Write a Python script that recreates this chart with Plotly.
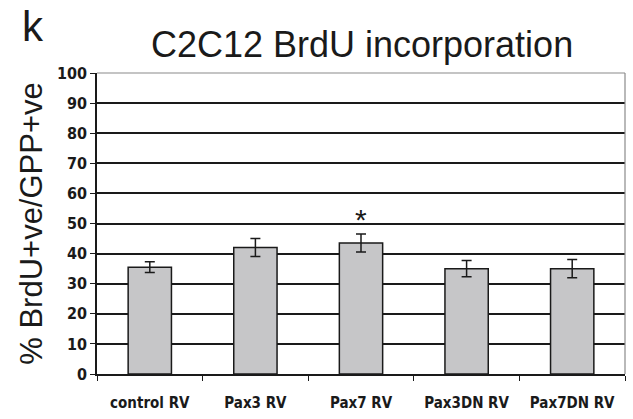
import plotly.graph_objects as go

categories = ["control RV", "Pax3 RV", "Pax7 RV", "Pax3DN RV", "Pax7DN RV"]
means = [35.5, 42.0, 43.5, 35.0, 35.0]
errors = [1.8, 3.0, 3.0, 2.7, 3.0]
y_ticks = [0, 10, 20, 30, 40, 50, 60, 70, 80, 90, 100]
star_category = "Pax7 RV"
star_value = 51.2

TICK_FONT = "DejaVu Sans Condensed, Liberation Sans Narrow, Arial Narrow, sans-serif"

fig = go.Figure()
fig.add_trace(go.Bar(
    x=categories, y=means,
    marker=dict(color="#c6c6c8", line=dict(color="#1a1a1a", width=1.5)),
    width=0.41,
    error_y=dict(type="data", array=errors, visible=True, color="#1a1a1a",
                 thickness=1.5, width=5),
))

fig.add_annotation(x=star_category, y=star_value, text="*", showarrow=False,
                   font=dict(size=30, color="#1a1a1a", family="Liberation Sans"),
                   yanchor="middle")

# top & right frame (gray)
fig.add_shape(type="line", xref="paper", yref="paper", x0=0, x1=1, y0=1, y1=1,
              line=dict(color="#8a8a8a", width=1.2), layer="above")
fig.add_shape(type="line", xref="paper", yref="paper", x0=1, x1=1, y0=0, y1=1,
              line=dict(color="#8a8a8a", width=1.2), layer="above")

fig.add_annotation(xref="paper", yref="paper", x=-0.121, y=1.153, text="k",
                   showarrow=False, xanchor="center", yanchor="middle",
                   font=dict(size=42, color="#1a1a1a", family="Liberation Sans"))

fig.update_layout(
    width=633, height=419,
    margin=dict(l=97, r=8, t=73, b=45),
    paper_bgcolor="white", plot_bgcolor="white",
    showlegend=False,
    title=dict(text="C2C12 BrdU incorporation", x=0.572, xanchor="center",
               y=0.893, yanchor="middle",
               font=dict(size=36, color="#1a1a1a", family="Liberation Sans")),
    bargap=0.59,
)
fig.update_yaxes(
    automargin=False,
    range=[0, 100], tickvals=y_ticks, ticktext=["<b>%d</b>" % v for v in y_ticks],
    showgrid=True, gridcolor="#1a1a1a", gridwidth=1.5,
    showline=True, linecolor="#1a1a1a", linewidth=1.5,
    ticks="outside", ticklen=5, tickcolor="#1a1a1a",
    tickfont=dict(size=16, color="#1a1a1a", family=TICK_FONT),
    title=dict(text="% BrdU+ve/GPP+ve", standoff=5,
               font=dict(size=31, color="#1a1a1a", family="Liberation Sans")),
    zeroline=False,
)
fig.update_xaxes(
    automargin=False,
    showline=True, linecolor="#1a1a1a", linewidth=1.5,
    ticks="outside", ticklen=5, tickcolor="#1a1a1a", tickson="boundaries",
    tickvals=categories, ticktext=["<b>%s</b>" % c for c in categories],
    tickfont=dict(size=15, color="#1a1a1a", family=TICK_FONT),
    ticklabelstandoff=14,
    showgrid=False,
)

fig.write_html("out.html", config={"displayModeBar": False},
               post_script="document.body.style.margin='0';")
